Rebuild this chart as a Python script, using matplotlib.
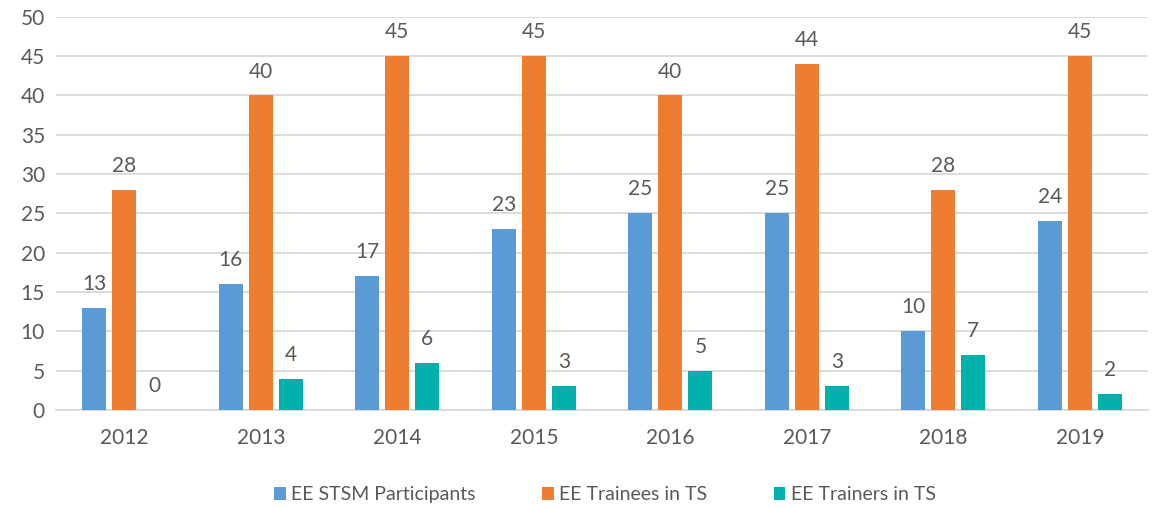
import numpy as np
import matplotlib.pyplot as plt

years = ['2012', '2013', '2014', '2015', '2016', '2017', '2018', '2019']
stsm = [13, 16, 17, 23, 25, 25, 10, 24]
trainees = [28, 40, 45, 45, 40, 44, 28, 45]
trainers = [0, 4, 6, 3, 5, 3, 7, 2]

labels = ['EE STSM Participants', 'EE Trainees in TS', 'EE Trainers in TS']
colors = ['#5B9BD5', '#ED7D31', '#00B0AA']
text_color = '#595959'

plt.rcParams['font.family'] = ['Lato', 'DejaVu Sans']

fig = plt.figure(figsize=(11.68, 5.08), dpi=100)
ax = fig.add_axes([0.048, 0.193, 0.935, 0.774])

x = np.arange(len(years))
width = 0.176
step = 0.22
for i, (vals, lab, col) in enumerate(zip([stsm, trainees, trainers], labels, colors)):
    pos = x + (i - 1) * step
    ax.bar(pos, vals, width, color=col, label=lab, zorder=3)
    for p, v in zip(pos, vals):
        ax.annotate(str(v), (p, v), xytext=(0, 10), textcoords='offset points',
                    ha='center', va='bottom', fontsize=15, color=text_color)

ax.set_ylim(0, 50)
ax.set_yticks(range(0, 51, 5))
ax.set_xlim(-0.5, len(years) - 0.5)
ax.set_xticks(x)
ax.set_xticklabels(years)
ax.yaxis.grid(True, color='#D9D9D9', linewidth=1.3, zorder=0)
for s in ['top', 'right', 'left']:
    ax.spines[s].set_visible(False)
ax.spines['bottom'].set_color('#D9D9D9')
ax.spines['bottom'].set_linewidth(1.3)
ax.tick_params(axis='both', length=0, labelsize=15, colors=text_color)
ax.tick_params(axis='x', pad=13)
ax.tick_params(axis='y', pad=8)

fig.legend(loc='center', bbox_to_anchor=(0.518, 0.026), ncol=3, frameon=False,
           fontsize=14, labelcolor=text_color, handlelength=0.6, handleheight=0.6,
           handletextpad=0.3, columnspacing=3.4)

fig.savefig('out.png', dpi=100)
